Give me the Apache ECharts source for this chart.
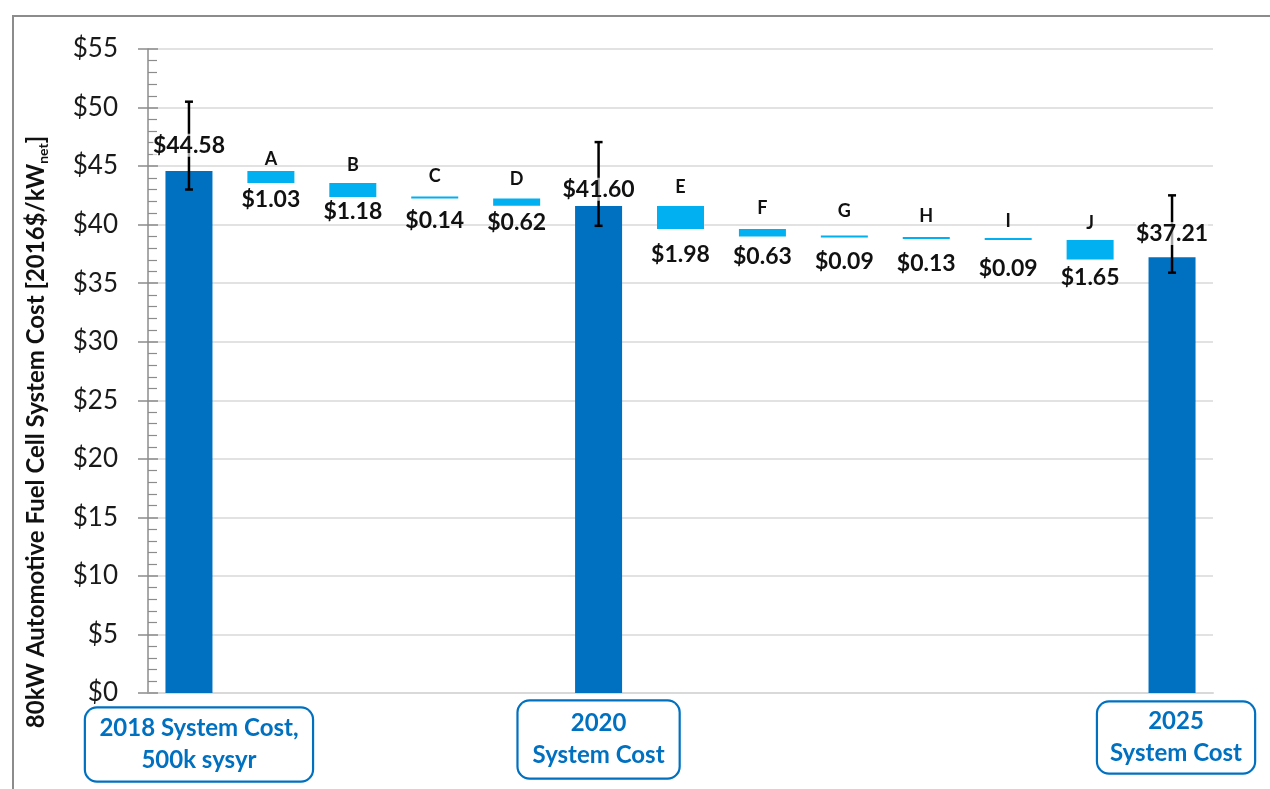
<!DOCTYPE html>
<html>
<head>
<meta charset="utf-8">
<script src="https://cdn.jsdelivr.net/npm/echarts@6/dist/echarts.min.js"></script>
<style>
html,body{margin:0;padding:0;background:#fff;}
#frame{position:absolute;left:12px;top:15px;width:1258px;height:774px;border-top:2px solid #8c8c8c;border-left:2px solid #8c8c8c;box-sizing:border-box;}
#chart{position:absolute;left:0;top:0;width:1270px;height:789px;}
</style>
</head>
<body>
<div id="frame"></div>
<div id="chart"></div>
<script>
// ---- data ----
const categories = ['2018', 'A', 'B', 'C', 'D', '2020', 'E', 'F', 'G', 'H', 'I', 'J', '2025'];
const totals = [44.58, null, null, null, null, 41.60, null, null, null, null, null, null, 37.21];
const deltas = [null, 1.03, 1.18, 0.14, 0.62, null, 1.98, 0.63, 0.09, 0.13, 0.09, 1.65, null];
const errLow = [43.0, null, null, null, null, 39.9, null, null, null, null, null, null, 35.9];
const errHigh = [50.5, null, null, null, null, 47.05, null, null, null, null, null, null, 42.5];
const boxLabels = ['2018 System Cost,\n500k sysyr', '2020\nSystem Cost', '2025\nSystem Cost'];
const boxIndex = [0, 5, 12];
const yTicks = { min: 0, max: 55, interval: 5 };
const axisTitle = '80kW Automotive Fuel Cell System Cost [2016$/kW';
const axisTitleSub = 'net';

// ---- styles (label gaps in px) ----
const letterGap = [0, 3.7, 9.7, 12, 11, 0, 10.4, 12.7, 16.7, 13, 8.6, 9.3, 0];
const valueGap = [0, 6, 4, 11.4, 5.6, 0, 14, 9, 13, 13.7, 17, 7, 0];
const totalGap = [25.7, 0, 0, 0, 0, 16.7, 0, 0, 0, 0, 0, 0, 23.7];
const boxStyle = [
  { w: 226, pad: [4, 0, 4, 0], off: [10, 15] },
  { w: 160, pad: [6, 0, 6, 0], off: [0, 8] },
  { w: 156, pad: [3, 0, 3, 0], off: [4, 9] }
];
const DARK = '#0070C0', LIGHT = '#00B0F0';
const FONT = 'Lato';

// ---- build waterfall ----
let level = 0;
const baseData = [], visData = [];
categories.forEach((c, i) => {
  if (totals[i] != null) {
    level = totals[i];
    baseData.push({ value: 0, label: { show: false } });
    visData.push({ value: totals[i], itemStyle: { color: DARK }, label: { show: false } });
  } else {
    const base = level - deltas[i];
    level = base;
    baseData.push({
      value: base,
      label: { show: true, distance: valueGap[i], formatter: '$' + deltas[i].toFixed(2) }
    });
    visData.push({
      value: deltas[i], itemStyle: { color: LIGHT },
      label: { show: true, distance: letterGap[i], formatter: c }
    });
  }
});

const errData = [];
categories.forEach((c, i) => {
  if (totals[i] != null) errData.push([i, errLow[i], errHigh[i], totals[i]]);
});

const boxData = boxIndex.map((ci, k) => ({
  value: [ci, 0],
  label: {
    show: true, position: 'bottom', distance: 0,
    formatter: boxLabels[k],
    offset: boxStyle[k].off,
    width: boxStyle[k].w,
    padding: boxStyle[k].pad,
    align: 'center',
    verticalAlign: 'top',
    lineHeight: 32,
    fontFamily: FONT, fontWeight: 'bold', fontSize: 24, color: DARK,
    backgroundColor: '#fff',
    borderColor: DARK, borderWidth: 2.2, borderRadius: 11
  }
}));

const chart = echarts.init(document.getElementById('chart'), null, { renderer: 'canvas' });
chart.setOption({
  animation: false,
  backgroundColor: 'transparent',
  grid: { left: 148, right: 57, top: 49, bottom: 96, containLabel: false },
  xAxis: {
    type: 'category', data: categories,
    axisLine: { show: true, lineStyle: { color: '#d9d9d9', width: 2 } },
    axisTick: { show: false }, axisLabel: { show: false }
  },
  yAxis: [{
    type: 'value', min: yTicks.min, max: yTicks.max, interval: yTicks.interval,
    axisLine: { show: true, lineStyle: { color: '#8c8c8c', width: 1.5 } },
    axisTick: { show: true, length: 10, lineStyle: { color: '#8c8c8c', width: 1.5 } },
    axisLabel: { margin: 30, formatter: v => '$' + v, fontFamily: FONT, fontSize: 26, color: '#1a1a1a' },
    splitLine: { show: true, lineStyle: { color: '#d9d9d9', width: 1.5 } }
  }, {
    type: 'value', position: 'left', offset: 0,
    min: yTicks.min, max: yTicks.max, interval: yTicks.interval,
    axisLine: { show: false },
    axisTick: { show: true, inside: true, length: 10, lineStyle: { color: '#8c8c8c', width: 1.5 } },
    minorTick: { show: true, splitNumber: 5, length: 9, lineStyle: { color: '#8c8c8c', width: 1.2 } },
    axisLabel: { show: false }, splitLine: { show: false }
  }],
  graphic: [{
    type: 'text', x: 36, y: 432, rotation: Math.PI / 2,
    style: {
      text: '{t|' + axisTitle + '}{s|' + axisTitleSub + '}{t|]}',
      align: 'center', verticalAlign: 'middle',
      rich: {
        t: { fontFamily: FONT, fontWeight: 'bold', fontSize: 24, lineHeight: 28, fill: '#111' },
        s: { fontFamily: FONT, fontWeight: 'bold', fontSize: 14, lineHeight: 28, verticalAlign: 'bottom', fill: '#111' }
      }
    }
  }],
  series: [{
    type: 'bar', stack: 'w', data: baseData, barWidth: 47,
    itemStyle: { color: 'rgba(0,0,0,0)' },
    label: { position: 'insideTop', fontFamily: FONT, fontWeight: 'bold', fontSize: 23, lineHeight: 22, color: '#111' },
    emphasis: { disabled: true }, z: 2
  }, {
    type: 'bar', stack: 'w', data: visData, barWidth: 47, barMinHeight: 2,
    label: { position: 'top', fontFamily: FONT, fontWeight: 'bold', fontSize: 18, lineHeight: 16, color: '#111' },
    emphasis: { disabled: true }, z: 3
  }, {
    type: 'custom', data: errData, z: 5,
    renderItem: function (params, api) {
      const i = api.value(0);
      const lo = api.coord([i, api.value(1)]);
      const hi = api.coord([i, api.value(2)]);
      const top = api.coord([i, api.value(3)]);
      const cap = 4;
      const st = { stroke: '#000', lineWidth: 2.5 };
      return {
        type: 'group', children: [
          { type: 'line', shape: { x1: hi[0], y1: hi[1], x2: lo[0], y2: lo[1] }, style: st, z2: 1 },
          { type: 'line', shape: { x1: hi[0] - cap, y1: hi[1], x2: hi[0] + cap, y2: hi[1] }, style: st, z2: 1 },
          { type: 'line', shape: { x1: lo[0] - cap, y1: lo[1], x2: lo[0] + cap, y2: lo[1] }, style: st, z2: 1 },
          {
            type: 'text', x: top[0], y: top[1] - totalGap[i], z2: 10,
            style: {
              text: '$' + api.value(3).toFixed(2), align: 'center', verticalAlign: 'middle',
              font: 'bold 23px ' + FONT, fill: '#111',
              backgroundColor: 'rgba(255,255,255,0.65)', padding: [0, 0]
            }
          }
        ]
      };
    }
  }, {
    type: 'scatter', data: boxData, symbolSize: 1,
    itemStyle: { color: 'rgba(0,0,0,0)', opacity: 1 }, z: 6, clip: false,
    emphasis: { disabled: true }
  }]
});
</script>
</body>
</html>
